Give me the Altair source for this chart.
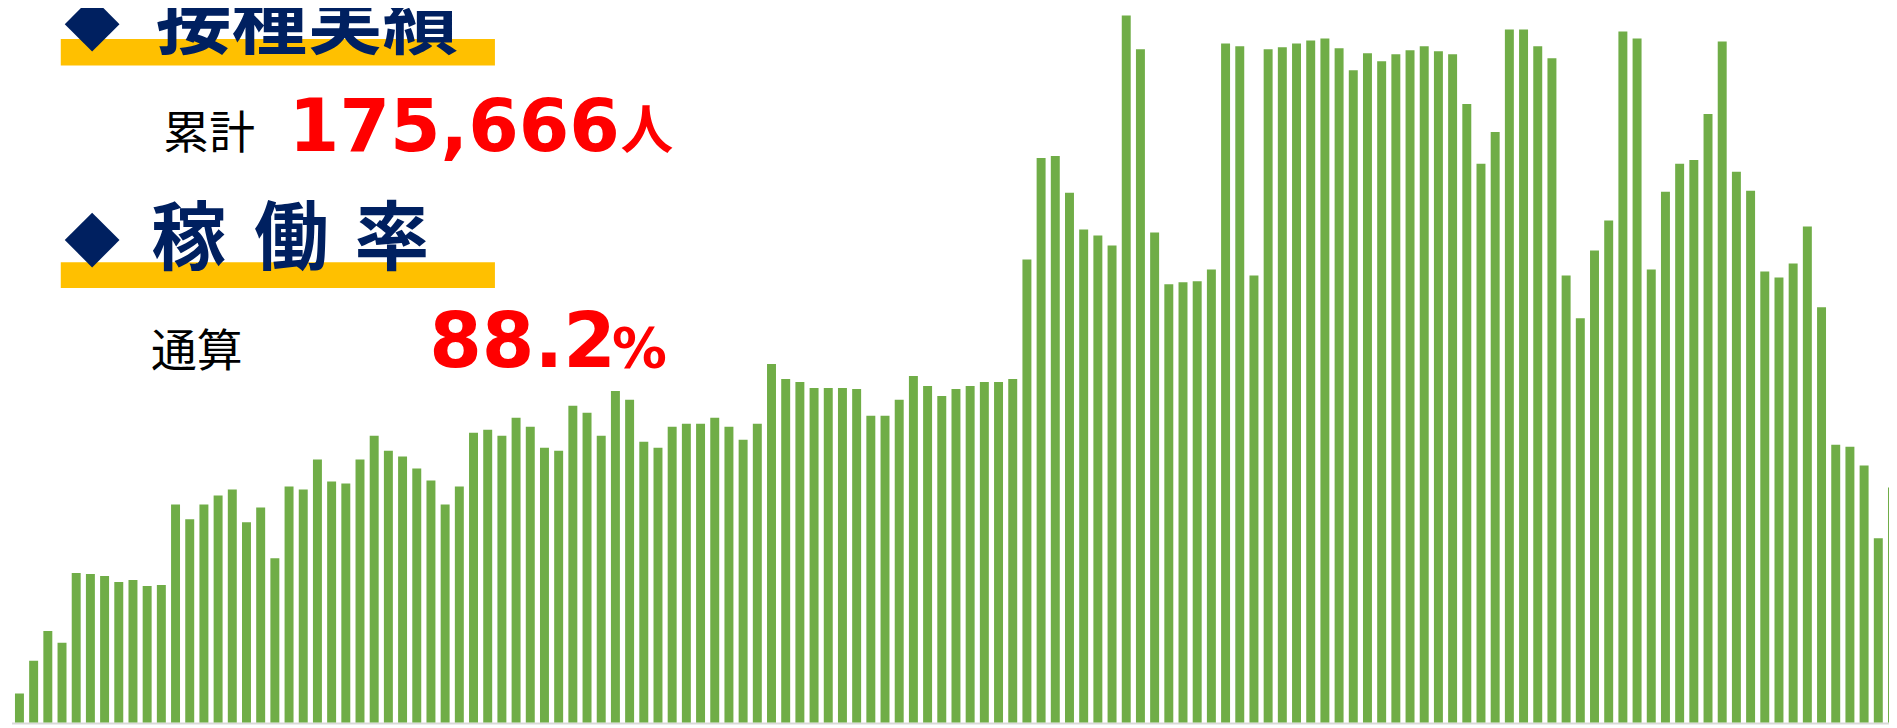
import altair as alt
import pandas as pd

# ---- data (no axis, so units are relative bar heights) ----
daily_counts = [
    29, 62, 92, 80, 150, 149, 147, 141, 143, 137,
    138, 219, 204, 219, 228, 234, 201, 216, 165, 237,
    234, 264, 242, 240, 264, 288, 273, 267, 255, 243,
    219, 237, 291, 294, 288, 306, 297, 276, 273, 318,
    311, 288, 333, 324, 282, 276, 297, 300, 300, 306,
    297, 284, 300, 360, 345, 342, 336, 336, 336, 335,
    308, 308, 324, 348, 338, 328, 335, 338, 342, 342,
    345, 465, 567, 569, 532, 495, 489, 479, 710, 676,
    492, 440, 442, 443, 455, 682, 679, 449, 676, 678,
    682, 685, 687, 677, 655, 672, 664, 671, 675, 679,
    674, 671, 621, 561, 593, 696, 696, 679, 667, 449,
    406, 474, 504, 694, 687, 455, 533, 561, 565, 611,
    684, 553, 534, 453, 447, 461, 498, 417, 279, 277,
    258, 185, 236,
]
days = list(range(len(daily_counts)))

title_1 = "接種実績"
title_2_chars = ["稼", "働", "率"]
label_total = "累計"
total_value = "175,666"
total_unit = "人"
label_rate = "通算"
rate_value = "88.2"
rate_unit = "%"

# ---- style ----
W, H = 1889, 718
GREEN = "#70AD47"
NAVY = "#002060"
RED = "#FF0000"
YELLOW = "#FFC000"
GRAY = "#D9D9D9"
CJK = "Noto Sans CJK JP"
NUM = "DejaVu Sans"

df = pd.DataFrame({"day": days, "count": daily_counts})
one = pd.DataFrame({"k": [0]})

x_scale = alt.Scale(domain=[-0.4912, 132.07], nice=False, zero=False)
y_scale = alt.Scale(domain=[-2, 716], nice=False, zero=False)

baseline = alt.Chart(one).mark_rule(color=GRAY, strokeWidth=2).encode(
    y=alt.value(717),
    x=alt.value(4),
    x2=alt.value(W),
)

bars = (
    alt.Chart(df)
    .transform_calculate(day_end="datum.day + 0.6316", base="0")
    .mark_bar(color=GREEN, clip=True)
    .encode(
        x=alt.X("day:Q", scale=x_scale, axis=None),
        x2="day_end:Q",
        y=alt.Y("count:Q", scale=y_scale, axis=None),
        y2="base:Q",
    )
)


def band(y0, y1):
    return alt.Chart(one).mark_rect(color=YELLOW).encode(
        x=alt.value(53), x2=alt.value(489), y=alt.value(y0), y2=alt.value(y1)
    )


def diamond(cy):
    return alt.Chart(one).mark_point(
        shape="diamond", filled=True, size=3025, color=NAVY, opacity=1
    ).encode(x=alt.value(84.5), y=alt.value(cy))


def label(text, x, y, size, color, font, weight="normal"):
    return alt.Chart(one).mark_text(
        text=text, font=font, fontSize=size, fontWeight=weight, color=color,
        align="left", baseline="alphabetic",
    ).encode(x=alt.value(x), y=alt.value(y))


layers = [
    baseline,
    bars,
    band(29.7, 56.3),
    band(253.7, 279.7),
    diamond(14.7),
    diamond(231.5),
    label(title_1, 148.5, 39, 76, NAVY, CJK, "bold"),
]
for ch, cx in zip(title_2_chars, [144, 247, 348]):
    layers.append(label(ch, cx, 256, 75, NAVY, CJK, "bold"))
layers += [
    label(label_total, 156, 140.5, 46, "#000000", CJK),
    label(total_value, 282, 142, 73, RED, NUM, "bold"),
    label(total_unit, 615, 140, 53, RED, CJK, "bold"),
    label(label_rate, 143.5, 359, 46, "#000000", CJK),
    label(rate_value, 423, 358.7, 76, RED, NUM, "bold"),
    label(rate_unit, 606.5, 358.7, 55, RED, NUM, "bold"),
]

chart = (
    alt.layer(*layers)
    .properties(
        width=W,
        height=H,
        autosize=alt.AutoSizeParams(type="none"),
        padding=0,
        background="white",
    )
    .configure_view(strokeWidth=0)
)

chart.save("out.html", embed_options={"renderer": "svg", "actions": False})
